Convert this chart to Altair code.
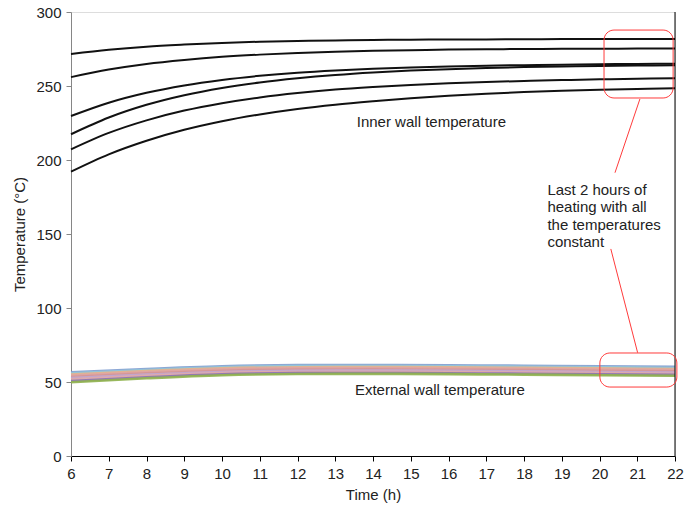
import altair as alt
import pandas as pd

# Time axis (h) at which each temperature curve is sampled
hours = list(range(6, 23))
temp_ticks = [0, 50, 100, 150, 200, 250, 300]

# Inner wall temperature curves (°C), one value per hour from 6 h to 22 h
inner_1 = [271.6, 274.5, 276.6, 278.0, 279.1, 279.9, 280.4, 280.8, 281.1, 281.3, 281.4, 281.5, 281.6, 281.7, 281.7, 281.8, 281.8]
inner_2 = [256.0, 261.1, 264.9, 267.6, 269.7, 271.2, 272.3, 273.2, 273.8, 274.2, 274.6, 274.8, 275.0, 275.1, 275.2, 275.3, 275.4]
inner_3 = [229.7, 238.7, 245.4, 250.4, 254.1, 256.9, 259.0, 260.5, 261.6, 262.5, 263.2, 263.7, 264.1, 264.4, 264.7, 264.9, 265.1]
inner_4 = [217.4, 228.7, 237.3, 243.8, 248.7, 252.4, 255.2, 257.4, 259.1, 260.4, 261.4, 262.2, 262.8, 263.2, 263.5, 263.8, 264.0]
inner_5 = [207.2, 218.3, 226.8, 233.4, 238.4, 242.3, 245.3, 247.6, 249.3, 250.7, 251.8, 252.7, 253.4, 254.0, 254.5, 254.9, 255.2]
inner_6 = [192.1, 203.8, 213.0, 220.4, 226.2, 230.8, 234.5, 237.4, 239.7, 241.7, 243.4, 244.8, 245.9, 246.8, 247.5, 248.0, 248.4]

# External wall temperature curves (°C), sampled every 2 h
ext_hours = [6, 8, 10, 12, 14, 16, 18, 20, 22]
ext_1 = [56.5, 58.8, 60.6, 61.4, 61.5, 61.3, 61.0, 60.6, 60.2]
ext_2 = [55.8, 58.1, 59.9, 60.7, 60.8, 60.6, 60.3, 59.9, 59.5]
ext_3 = [55.0, 57.4, 59.2, 60.0, 60.1, 59.9, 59.6, 59.2, 58.8]
ext_4 = [54.2, 56.6, 58.4, 59.2, 59.3, 59.1, 58.8, 58.4, 58.0]
ext_5 = [53.4, 55.8, 57.6, 58.4, 58.5, 58.3, 58.0, 57.6, 57.2]
ext_6 = [52.6, 55.0, 56.8, 57.6, 57.7, 57.5, 57.2, 56.8, 56.4]
ext_7 = [51.8, 54.2, 56.0, 56.8, 56.9, 56.7, 56.4, 56.0, 55.6]
ext_8 = [50.6, 53.2, 55.2, 56.0, 56.1, 55.9, 55.6, 55.2, 54.8]
ext_9 = [49.8, 52.5, 54.6, 55.4, 55.5, 55.3, 55.0, 54.6, 54.2]
ext_colors = ["#7f9dd0", "#93c8d8", "#e8b08a", "#dfa3a3", "#d49595", "#c0a6d0", "#e0a8a8", "#8a72b2", "#8fb34c"]

# Highlight boxes for the last two hours of heating (h, °C)
box_x = [20.12, 20.01]
box_x2 = [21.95, 22.05]
box_y = [287.8, 69.6]
box_y2 = [241.9, 46.6]

# Leader lines from the note to the boxes
lead_x = [21.07, 20.30]
lead_y = [241.2, 139.9]
lead_x2 = [20.41, 21.01]
lead_y2 = [191.4, 69.8]

# Text notes
note_text = ["Inner wall temperature", "External wall temperature",
             ["Last 2 hours of", "heating with all", "the temperatures", "constant"]]
note_x = [13.57, 13.52, 18.62]
note_y = [222.5, 41.2, 176.4]

FONT = "Liberation Sans"

inner_rows = []
for i, series in enumerate([inner_1, inner_2, inner_3, inner_4, inner_5, inner_6]):
    for h, t in zip(hours, series):
        inner_rows.append({"series": f"in{i}", "h": h, "T": t})
inner_df = pd.DataFrame(inner_rows)

ext_rows = []
for i, series in enumerate([ext_1, ext_2, ext_3, ext_4, ext_5, ext_6, ext_7, ext_8, ext_9]):
    for h, t in zip(ext_hours, series):
        ext_rows.append({"series": f"ex{i}", "order": i, "h": h, "T": t})
ext_df = pd.DataFrame(ext_rows)

box_df = pd.DataFrame({"x": box_x, "x2": box_x2, "y": box_y, "y2": box_y2})
lead_df = pd.DataFrame({"x": lead_x, "x2": lead_x2, "y": lead_y, "y2": lead_y2})
note_df = pd.DataFrame({"text": note_text, "x": note_x, "y": note_y})

x_scale = alt.Scale(domain=[6, 22], nice=False, zero=False)
y_scale = alt.Scale(domain=[0, 300], nice=False)

x_axis = alt.Axis(title="Time (h)", values=hours, grid=False, labelOverlap=False, labelFlush=False,
                  labelBound=False, domainColor="#000000", tickColor="#000000", tickSize=5,
                  labelPadding=5, titlePadding=6,
                  labelFont=FONT, labelFontSize=15, labelColor="#222222",
                  titleFont=FONT, titleFontSize=15, titleFontWeight="normal", titleColor="#222222")
y_axis = alt.Axis(title="Temperature (°C)", values=temp_ticks, grid=False, labelFlush=False,
                  labelOverlap=False, domainColor="#868686", tickColor="#868686", tickSize=5,
                  labelPadding=5, titlePadding=8, labelFont=FONT, labelFontSize=15, labelColor="#222222",
                  titleFont=FONT, titleFontSize=15, titleFontWeight="normal", titleColor="#222222")


def xe(field):
    return alt.X(field, type="quantitative", scale=x_scale, axis=x_axis)


def ye(field):
    return alt.Y(field, type="quantitative", scale=y_scale, axis=y_axis)


ext_lines = alt.Chart(ext_df).mark_line(strokeWidth=2.6, opacity=0.9, interpolate="monotone").encode(
    x=xe("h"),
    y=ye("T"),
    detail="series:N",
    order="order:Q",
    color=alt.Color("series:N", scale=alt.Scale(domain=[f"ex{i}" for i in range(9)], range=ext_colors), legend=None),
)

inner_lines = alt.Chart(inner_df).mark_line(strokeWidth=2, color="#111111", interpolate="monotone").encode(
    x=xe("h"),
    y=ye("T"),
    detail="series:N",
)

right_border = alt.Chart(pd.DataFrame({"x": [22]})).mark_rule(color="#000000", strokeWidth=1).encode(
    x=xe("x"),
    y=alt.value(0),
    y2=alt.value(444),
)

boxes = alt.Chart(box_df).mark_rect(fillOpacity=0, stroke="#ff3b3b", strokeWidth=1, cornerRadius=10).encode(
    x=xe("x"), x2="x2:Q",
    y=ye("y"), y2="y2:Q",
)

leaders = alt.Chart(lead_df).mark_rule(color="#ff3b3b", strokeWidth=1).encode(
    x=xe("x"), x2="x2:Q",
    y=ye("y"), y2="y2:Q",
)

notes = alt.Chart(note_df).mark_text(align="left", baseline="alphabetic", font=FONT, fontSize=15,
                                     color="#222222", lineHeight=17.5).encode(
    x=xe("x"),
    y=ye("y"),
    text="text",
)

chart = alt.layer(ext_lines, inner_lines, right_border, boxes, leaders, notes).properties(
    width=604, height=444,
    autosize=alt.AutoSizeParams(type="none"),
    padding={"left": 71, "top": 12, "right": 9, "bottom": 54},
).configure_view(stroke=None).configure_axisX(
    labelOverlap=False, labelFlush=False, labelBound=False
).configure(background="#ffffff")

chart.save("out.html", embed_options={"renderer": "svg", "actions": False})
